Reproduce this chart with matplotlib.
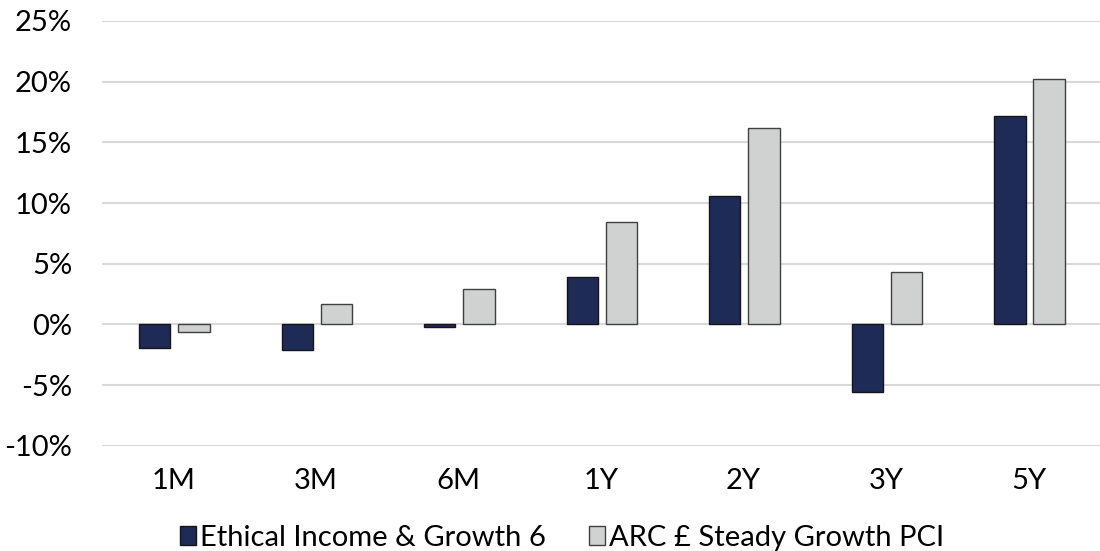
import numpy as np
import matplotlib
matplotlib.use("Agg")
import matplotlib.pyplot as plt

periods = ["1M", "3M", "6M", "1Y", "2Y", "3Y", "5Y"]
ethical = [-1.95, -2.1, -0.2, 3.9, 10.6, -5.55, 17.2]
arc_steady = [-0.6, 1.65, 2.9, 8.4, 16.2, 4.35, 20.2]
series_names = ["Ethical Income & Growth 6", "ARC £ Steady Growth PCI"]

plt.rcParams['font.family'] = ['Lato', 'DejaVu Sans']

fig = plt.figure(figsize=(11, 5.51), dpi=100)
ax = fig.add_axes([0.0927, 0.191, 0.907, 0.771])

x = np.arange(len(periods))
w = 0.22
ax.bar(x - 0.13, ethical, w, color="#1e2b57", edgecolor="#151515", linewidth=1.0,
       label=series_names[0], zorder=3)
ax.bar(x + 0.145, arc_steady, w, color="#d0d2d1", edgecolor="#404040", linewidth=1.0,
       label=series_names[1], zorder=3)

ax.set_xlim(-0.5, len(periods) - 0.5)
ax.set_ylim(-10, 25)
ax.set_yticks(np.arange(-10, 26, 5))
ax.set_yticklabels(["{:d}%".format(int(v)) for v in np.arange(-10, 26, 5)])
ax.set_xticks(x)
ax.set_xticklabels(periods)
ax.tick_params(axis='both', length=0, labelsize=21, colors="#000000")
ax.tick_params(axis='y', pad=21.5)
ax.tick_params(axis='x', pad=16)
ax.yaxis.grid(True, color="#d9d9d9", linewidth=1.5, zorder=0)
for s in ax.spines.values():
    s.set_visible(False)

leg = fig.legend(loc="center", bbox_to_anchor=(0.511, 0.024), ncol=2, frameon=False,
                 fontsize=21, handlelength=0.55, handleheight=0.62,
                 handletextpad=0.15, columnspacing=1.48)

fig.savefig("out.png", dpi=100)
